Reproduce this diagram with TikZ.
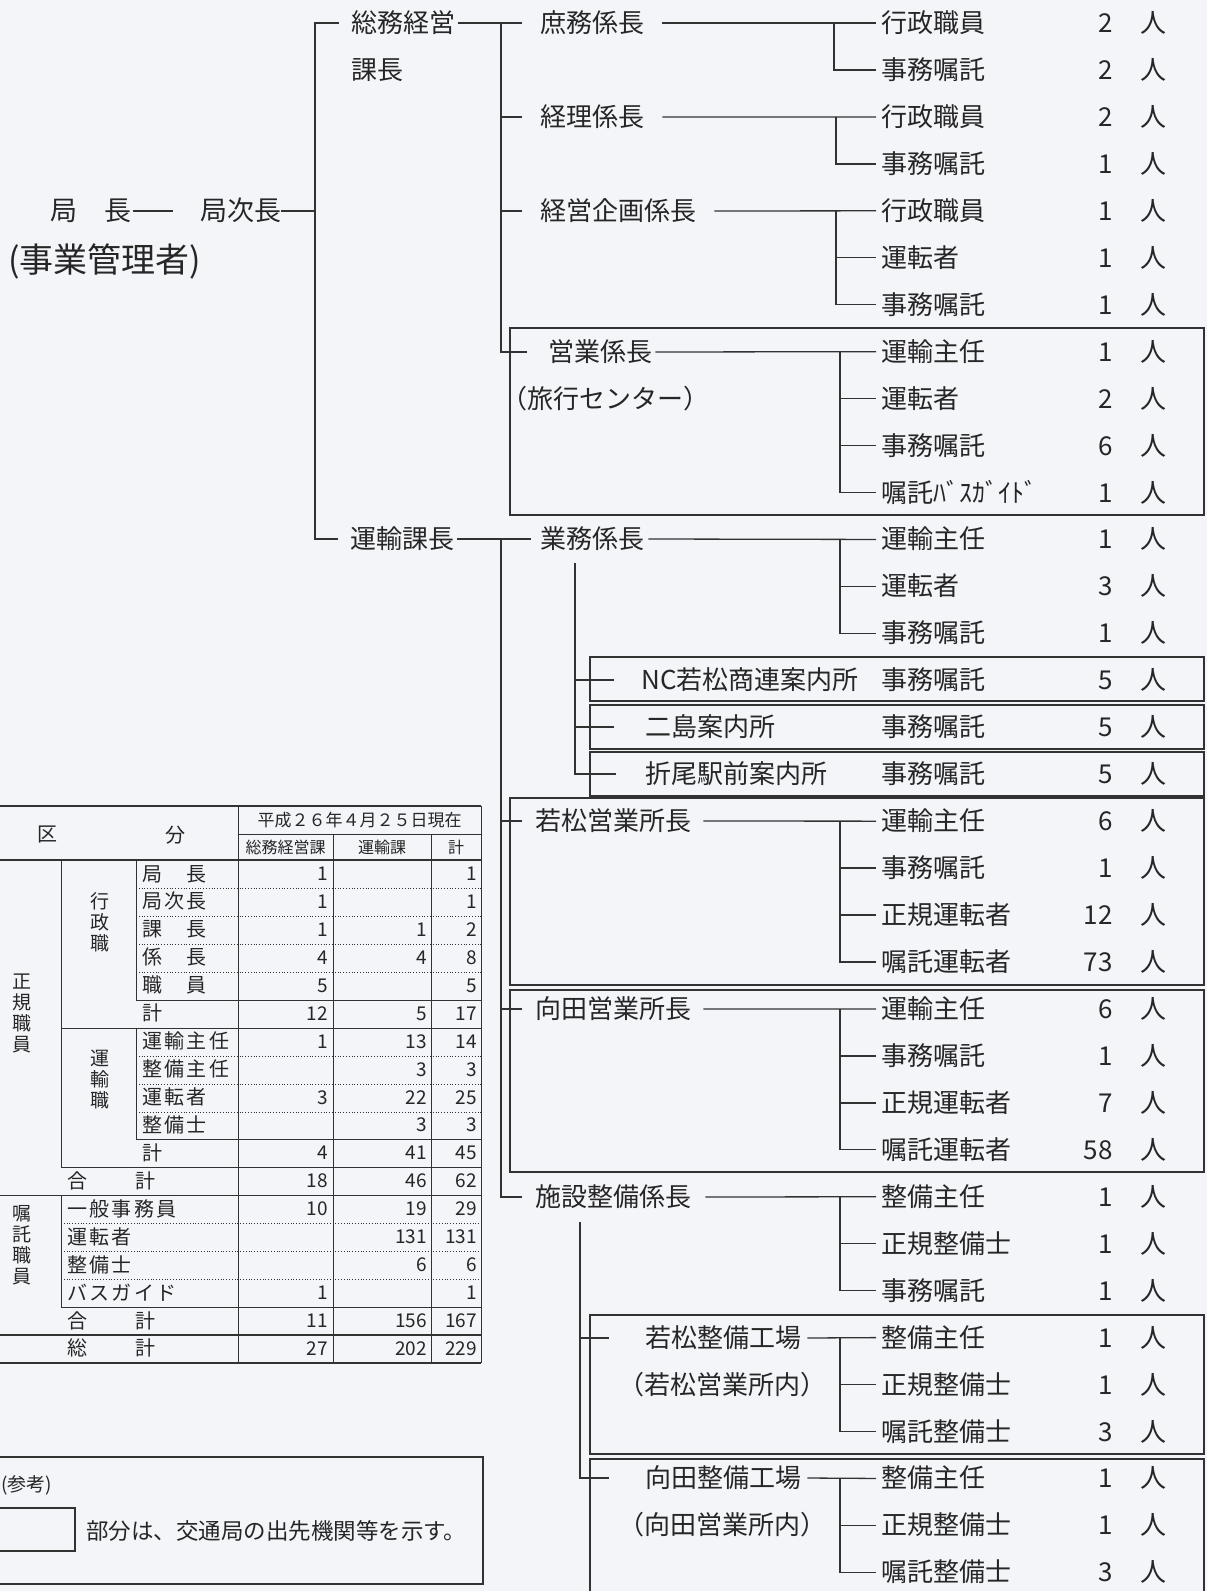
\documentclass[tikz,border=0pt]{standalone}
\usepackage{fontspec}
\setmainfont{Noto Sans CJK JP}
\newfontfamily\tbfont[LetterSpace=12]{Noto Sans CJK JP}
\definecolor{bg}{RGB}{244,245,249}
\definecolor{lc}{RGB}{50,50,50}
\definecolor{tc}{RGB}{38,38,38}
\begin{document}
\begin{tikzpicture}[x=1pt,y=-1pt,
 ln/.style={draw=lc,line width=1.3pt},
 bx/.style={draw=lc,line width=1.8pt},
 tl/.style={draw=lc,line width=1pt},
 tthick/.style={draw=lc,line width=2.2pt},
 tdot/.style={draw=lc,line width=0.8pt,dotted},
 lbl/.style={anchor=west,inner sep=0pt,text=tc,font=\fontsize{26}{28}\selectfont,text height=21pt,text depth=2pt},
 big/.style={lbl,font=\fontsize{27}{29}\selectfont},
 leaf/.style={lbl,inner xsep=5pt},
 num/.style={anchor=east,inner sep=0pt,text=tc,font=\fontsize{26}{28}\selectfont,text height=21pt,text depth=2pt},
 nin/.style={inner sep=0pt,text=tc,font=\fontsize{26}{28}\selectfont,text height=21pt,text depth=2pt},
 tlab/.style={anchor=west,inner sep=0pt,text=tc,font=\tbfont\fontsize{20}{22}\selectfont,text height=16pt,text depth=2pt},
 tnum/.style={anchor=east,inner sep=0pt,text=tc,font=\fontsize{19}{21}\selectfont,text height=14pt,text depth=1pt},
 thead/.style={inner sep=0pt,text=tc,font=\fontsize{17}{19}\selectfont},
 tvert/.style={inner sep=0pt,text=tc,align=center,font=\tbfont\fontsize{19}{21}\selectfont},
]
\useasboundingbox (0,0) rectangle (1207,1591);
\fill[bg] (0,0) rectangle (1207,1591);
\clip (0,0) rectangle (1207,1591);

% ---------- outposts boxes ----------
\draw[bx] (510,328) rectangle (1204,515);
\draw[bx] (590,657) rectangle (1204,701);
\draw[bx] (590,705) rectangle (1204,749);
\draw[bx] (590,752) rectangle (1204,796);
\draw[bx] (510,798) rectangle (1204,985);
\draw[bx] (510,990) rectangle (1204,1172);
\draw[bx] (590,1315) rectangle (1204,1454);
\draw[bx] (590,1459) rectangle (1204,1600);

% ---------- top levels ----------
\node[big] (kyoku) at (50,211) {局　長};
\node[big] (jicho) at (200,211) {局次長};
\node[lbl,font=\fontsize{34}{36}\selectfont,text height=27pt,text depth=3pt] (kanri) at (8,260) {(事業管理者)};

\node[lbl] (soumu) at (351,23) {総務経営};
\node[lbl] (soumu2) at (351,70) {課長};
\node[lbl] (unyu) at (350,539) {運輸課長};

\node[lbl] (shomu) at (540,23) {庶務係長};
\node[lbl] (keiri) at (540,117) {経理係長};
\node[lbl] (kikaku) at (540,211) {経営企画係長};
\node[lbl] (eigyo) at (548,352) {営業係長};
\node[lbl] (ryoko) at (501,399) {（旅行センター）};

\node[lbl] (gyomu) at (540,539) {業務係長};
\node[lbl] (nc) at (641,680) {NC若松商連案内所};
\node[lbl] (futa) at (645,727) {二島案内所};
\node[lbl] (orio) at (645,774) {折尾駅前案内所};
\node[lbl] (waka) at (535,821) {若松営業所長};
\node[lbl] (muko) at (535,1009) {向田営業所長};
\node[lbl] (shisetsu) at (535,1197) {施設整備係長};
\node[lbl] (wkojo) at (645,1338) {若松整備工場};
\node[lbl] (wkojo2) at (618,1385) {（若松営業所内）};
\node[lbl] (mkojo) at (645,1478) {向田整備工場};
\node[lbl] (mkojo2) at (618,1525) {（向田営業所内）};

% ---------- leaves ----------
\foreach \r/\t/\n in {0/行政職員/2, 1/事務嘱託/2, 2/行政職員/2, 3/事務嘱託/1, 4/行政職員/1, 5/運転者/1, 6/事務嘱託/1, 7/運輸主任/1, 8/運転者/2, 9/事務嘱託/6, 10/嘱託ﾊﾞｽｶﾞｲﾄﾞ/1, 11/運輸主任/1, 12/運転者/3, 13/事務嘱託/1, 14/事務嘱託/5, 15/事務嘱託/5, 16/事務嘱託/5, 17/運輸主任/6, 18/事務嘱託/1, 19/正規運転者/12, 20/嘱託運転者/73, 21/運輸主任/6, 22/事務嘱託/1, 23/正規運転者/7, 24/嘱託運転者/58, 25/整備主任/1, 26/正規整備士/1, 27/事務嘱託/1, 28/整備主任/1, 29/正規整備士/1, 30/嘱託整備士/3, 31/整備主任/1, 32/正規整備士/1, 33/嘱託整備士/3}{
  \node[leaf] (L\r) at (876,{23+46.95*\r}) {\t};
  \node[num] (N\r) at (1113,{23+46.95*\r}) {\n};
  \node[nin] (P\r) at (1153,{23+46.95*\r}) {人};
}

% ---------- trunks ----------
\coordinate (t1) at (315,23);
\draw[ln] ([xshift=2pt]kyoku.east) -- ([xshift=-27pt]jicho.west);
\draw[ln] (jicho.east) -- (jicho.east -| t1);
\draw[ln] ([xshift=-12pt]soumu.west) -- (t1) -- (t1 |- unyu.west) -- ([xshift=-12pt]unyu.west);

\coordinate (t2) at (501,23);
\draw[ln] ([xshift=3pt]soumu.east) -- ([xshift=-18pt]shomu.west);
\draw[ln] (t2) -- (t2 |- eigyo.west) -- ([xshift=-21pt]eigyo.west);
\draw[ln] (t2 |- keiri.west) -- ([xshift=-18pt]keiri.west);
\draw[ln] (t2 |- kikaku.west) -- ([xshift=-18pt]kikaku.west);

\coordinate (t3) at (501,539);
\draw[ln] ([xshift=3pt]unyu.east) -- ([xshift=-9pt]gyomu.west);
\draw[ln] (t3) -- (t3 |- shisetsu.west) -- ([xshift=-13pt]shisetsu.west);
\draw[ln] (t3 |- waka.west) -- ([xshift=-13pt]waka.west);
\draw[ln] (t3 |- muko.west) -- ([xshift=-13pt]muko.west);

\coordinate (gv) at (575,563);
\draw[ln] (gv) -- (gv |- orio.west) -- ([xshift=-29pt]orio.west);
\draw[ln] (gv |- nc.west) -- ([xshift=-27pt]nc.west);
\draw[ln] (gv |- futa.west) -- ([xshift=-31pt]futa.west);

\coordinate (sv) at (580,1222);
\draw[ln] (sv) -- (sv |- mkojo.west) -- ([xshift=-36pt]mkojo.west);
\draw[ln] (sv |- wkojo.west) -- ([xshift=-36pt]wkojo.west);

% ---------- leaf connectors ----------
\coordinate (bA) at (834,23);
\draw[ln] ([xshift=18pt]shomu.east) -- (L0.west);
\draw[ln] (bA) |- (L1.west);

\coordinate (bB) at (836,117);
\draw[ln] ([xshift=18pt]keiri.east) -- (L2.west);
\draw[ln] (bB) |- (L3.west);

\coordinate (bC) at (836,211);
\draw[ln] ([xshift=18pt]kikaku.east) -- (L4.west);
\draw[ln] (bC) |- (L6.west);
\draw[ln] (bC |- L5.west) -- (L5.west);

\coordinate (bD) at (840,352);
\draw[ln] ([xshift=3pt]eigyo.east) -- (L7.west);
\draw[ln] (bD) |- (L10.west);
\foreach \k in {8,9} \draw[ln] (bD |- L\k.west) -- (L\k.west);

\coordinate (bE) at (840,539);
\draw[ln] ([xshift=4pt]gyomu.east) -- (L11.west);
\draw[ln] (bE) |- (L13.west);
\draw[ln] (bE |- L12.west) -- (L12.west);

\coordinate (bF) at (840,821);
\draw[ln] ([xshift=12pt]waka.east) -- (L17.west);
\draw[ln] (bF) |- (L20.west);
\foreach \k in {18,19} \draw[ln] (bF |- L\k.west) -- (L\k.west);

\coordinate (bG) at (840,1009);
\draw[ln] ([xshift=12pt]muko.east) -- (L21.west);
\draw[ln] (bG) |- (L24.west);
\foreach \k in {22,23} \draw[ln] (bG |- L\k.west) -- (L\k.west);

\coordinate (bH) at (840,1197);
\draw[ln] ([xshift=14pt]shisetsu.east) -- (L25.west);
\draw[ln] (bH) |- (L27.west);
\draw[ln] (bH |- L26.west) -- (L26.west);

\coordinate (bI) at (840,1338);
\draw[ln] ([xshift=6pt]wkojo.east) -- (L28.west);
\draw[ln] (bI) |- (L30.west);
\draw[ln] (bI |- L29.west) -- (L29.west);

\coordinate (bJ) at (840,1478);
\draw[ln] ([xshift=6pt]mkojo.east) -- (L31.west);
\draw[ln] (bJ) |- (L33.west);
\draw[ln] (bJ |- L32.west) -- (L32.west);

% ---------- table ----------
\draw[tthick] (-5,806) -- (481,806);
\draw[tl] (481,806) -- (481,1363);
\draw[tl] (238,806) -- (238,1363);
\draw[tl] (238,834) -- (481,834);
\draw[tl] (333,834) -- (333,1363);
\draw[tl] (431,834) -- (431,1363);
\draw[tthick] (-5,860) -- (481,860);
\draw[tl] (61,860) -- (61,1167) -- (481,1167);
\draw[tl] (136,860) -- (136,1000) -- (481,1000);
\draw[tl] (61,1028) -- (481,1028);
\draw[tl] (136,1028) -- (136,1139) -- (481,1139);
\draw[tl] (-5,1195) -- (481,1195);
\draw[tl] (61,1195) -- (61,1307) -- (481,1307);
\draw[tthick] (-5,1335) -- (481,1335);
\draw[tthick] (-5,1363) -- (481,1363);
\foreach \yy in {888,916,944,972,1056,1084,1112} \draw[tdot] (136,\yy) -- (481,\yy);
\foreach \yy in {1223,1251,1279} \draw[tdot] (61,\yy) -- (481,\yy);

\node[thead,font=\tbfont\fontsize{20}{22}\selectfont] (hku) at (47,835) {区};
\node[thead,font=\tbfont\fontsize{20}{22}\selectfont] (hbun) at (175,835) {分};
\node[thead] (hdate) at (359.5,820) {平成２６年４月２５日現在};
\node[thead,font=\fontsize{16}{18}\selectfont] (hsoumu) at (285.5,847) {総務経営課};
\node[thead,font=\fontsize{16}{18}\selectfont] (hunyu) at (382,847) {運輸課};
\node[thead,font=\fontsize{16}{18}\selectfont] (hkei) at (456,847) {計};

\node[tvert] (vseiki) at (22,1013) {正\\規\\職\\員};
\node[tvert] (vshoku) at (22,1245) {嘱\\託\\職\\員};
\node[tvert] (vgyo) at (100,922) {行\\政\\職};
\node[tvert] (vunyu) at (100,1080) {運\\輸\\職};

\foreach \i/\x/\t in {0/142/局　長, 1/142/局次長, 2/142/課　長, 3/142/係　長, 4/142/職　員, 5/142/計, 6/142/運輸主任, 7/142/整備主任, 8/142/運転者, 9/142/整備士, 10/142/計, 12/67/一般事務員, 13/67/運転者, 14/67/整備士, 15/67/バスガイド}
  \node[tlab] (r\i) at (\x,{874+27.94*\i}) {\t};
\node[tlab] (r11) at (67,{874+27.94*11}) {合\hspace{48pt}計};
\node[tlab] (r16) at (67,{874+27.94*16}) {合\hspace{48pt}計};
\node[tlab] (r17) at (67,{874+27.94*17}) {総\hspace{48pt}計};

\foreach \i/\a/\b/\c in {0/1//1, 1/1//1, 2/1/1/2, 3/4/4/8, 4/5//5, 5/12/5/17, 6/1/13/14, 7//3/3, 8/3/22/25, 9//3/3, 10/4/41/45, 11/18/46/62, 12/10/19/29, 13//131/131, 14//6/6, 15/1//1, 16/11/156/167, 17/27/202/229}{
  \node[tnum] (da\i) at (328,{874+27.94*\i}) {\a};
  \node[tnum] (db\i) at (427,{874+27.94*\i}) {\b};
  \node[tnum] (dc\i) at (477,{874+27.94*\i}) {\c};
}

% ---------- legend ----------
\draw[draw=lc,line width=1.6pt] (-5,1457) rectangle (483,1584);
\draw[draw=lc,line width=1.5pt] (-5,1508) rectangle (75,1551);
\node[anchor=west,inner sep=0pt,text=tc,font=\fontsize{19}{21}\selectfont] (sanko) at (1,1485) {(参考)};
\node[anchor=west,inner sep=0pt,text=tc,font=\fontsize{22.5}{24}\selectfont] (legtext) at (86,1531) {部分は、交通局の出先機関等を示す。};
\end{tikzpicture}
\end{document}
